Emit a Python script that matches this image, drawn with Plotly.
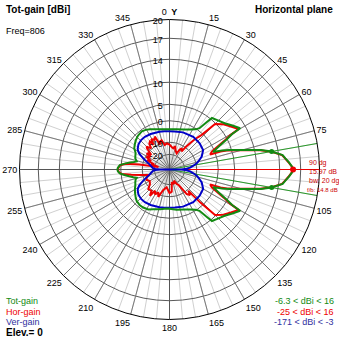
import plotly.graph_objects as go

# ---- pattern data (azimuth in degrees, gain in dBi) ----
TOT_ANG = [270, 272, 275, 277.5, 280, 282, 284, 288, 292, 296, 298.5, 301, 306, 311, 317, 324, 329, 334, 340, 345, 352,
           0, 10, 20, 27, 33, 36, 38, 39.5, 44, 50, 55, 59.7, 60.5, 62.5, 64.8, 68, 70, 72, 74, 76, 78, 80, 82.7, 84.5,
           86.5, 88.7, 90, 91.3, 93.5, 95.5, 97.3, 100, 102, 104, 106, 108, 110, 112, 115.2, 117.5, 119.5, 120.3, 125,
           130, 136, 140.5, 142, 144, 147, 153, 160, 170, 180, 184, 193, 202, 208, 214.7, 220, 226.4, 231, 236.5, 241,
           245, 250, 254, 256, 258, 260.5, 263, 265.5, 268, 270]
TOT_DB = [1.17, 1.0, 0.4, -1.3, -3.2, -5.0, -6.3, -5.2, -4.8, -4.4, -3.7, -2.9, -2.2, -1.5, -0.9, -0.6, -0.9, -1.5, -2.2,
          -2.7, -3.1, -3.3, -3.0, -2.3, -1.4, -0.3, 0.8, 3.5, 5.4, 5.9, 6.7, 7.8, 8.9, 6.7, 4.6, 2.1, -0.6, 2.3, 4.4, 6.3,
          8.6, 11.2, 12.97, 14.6, 14.95, 15.4, 15.85, 15.97, 15.85, 15.4, 14.95, 14.6, 12.97, 11.2, 8.6, 6.3, 4.4, 2.3,
          -0.6, 2.1, 4.6, 6.7, 8.9, 7.8, 6.7, 5.9, 5.4, 3.5, 0.8, -0.3, -1.4, -2.3, -3.0, -3.7, -3.8, -3.0, -2.2, -1.3,
          -0.9, -0.8, -1.2, -1.9, -2.8, -3.6, -4.4, -5.0, -5.6, -6.3, -4.7, -3.0, -1.2, 0.4, 1.0, 1.17]

HOR_ANG = [270, 272, 275, 277.5, 279.5, 281, 283, 286, 289, 292, 295, 299, 303, 305.4, 309, 313, 315, 319, 322, 325, 327,
           329, 333, 336, 339, 342, 345, 349, 354, 0, 5, 10, 14, 18, 24, 27, 30, 34, 36, 38, 39.5, 41.5, 43, 45, 50, 55,
           59.7, 60.5, 62.5, 64.8, 67, 69.7, 70.5, 72, 74, 76, 78, 80, 82.7, 84.5, 86.5, 88.7, 90, 91.3, 93.5, 95.5,
           97.3, 100, 102, 104, 106, 108, 109.5, 110.3, 113, 115.2, 117.5, 119.5, 120.3, 125, 130, 135, 137, 137.7,
           138.4, 141, 144.9, 150, 153.6, 158, 163, 170, 174.3, 180, 189, 196.8, 202.4, 206, 210, 214.4, 216.7, 220,
           223.6, 227.4, 233.4, 240, 245.3, 251, 255, 259, 262, 264.5, 267, 270]
HOR_DB = [1.0, 0.8, 0.2, -1.6, -8, -18, -25, -16, -19, -12, -15, -10.5, -13, -9.5, -12.5, -8.0, -7.0, -9.5, -6.8, -6.1,
          -8.6, -5.5, -6.5, -5.2, -10.2, -8.5, -8.1, -11.5, -10.6, -11.5, -13.0, -14.0, -12.2, -15.5, -17.3, -13.5,
          -11.8, -13.8, -9.5, -6.5, -4.3, -2.0, -0.5, 4.8, 6.3, 7.4, 8.5, 6.2, 4.0, 1.3, -1.0, -2.0, 1.8, 4.1, 6.1, 8.4,
          11.0, 12.85, 14.5, 14.9, 15.35, 15.8, 15.97, 15.8, 15.35, 14.9, 14.5, 12.85, 11.0, 8.4, 6.1, 4.1, 1.8, -2.0,
          -1.0, 1.3, 4.0, 6.2, 8.5, 7.4, 6.3, 4.8, -1.4, -5.5, -9.3, -6.8, -8.3, -17.3, -18.9, -24, -20, -22.6, -13.4,
          -12.5, -17, -14.1, -8.6, -11.2, -9.0, -11, -6.8, -9.5, -9.3, -9.0, -11.9, -13, -11.4, -12, -14.5, -9.0, -4.0,
          -0.3, 0.7, 1.0]

VER_ANG = [270, 270.5, 272, 275, 280, 285, 289, 293, 296, 298, 300.5, 303, 309, 316, 323, 332, 345, 352, 0, 8, 20, 36,
           49, 60, 68, 73, 77, 81, 85, 87.5, 89.5, 90, 90.5, 92.5, 95, 99, 103, 107, 112, 120, 131, 144, 160, 172, 180,
           188, 195, 208, 217, 224, 231, 237, 239.5, 242, 244, 247, 251, 255, 260, 265, 268, 269.5, 270]
VER_DB = [-171, -28, -21, -18.5, -16.5, -14.5, -12.0, -9.2, -7.2, -6.0, -5.0, -4.3, -3.4, -3.0, -3.0, -3.3, -3.8, -4.0,
          -4.2, -4.1, -3.6, -3.2, -3.4, -3.9, -5.8, -7.8, -9.5, -12.0, -14.7, -18, -24, -171, -24, -18, -14.7, -12.0,
          -9.5, -7.8, -5.8, -3.9, -3.4, -3.2, -3.6, -4.1, -4.2, -4.0, -3.8, -3.3, -3.0, -3.0, -3.4, -4.3, -5.0, -6.0,
          -7.2, -9.2, -12.0, -14.5, -16.5, -18.5, -21, -28, -171]

# main lobe summary
MAX_DIR = 90
MAX_GAIN = 15.97
BW_DIRS = [80, 100]
BW_GAIN = [12.97, 12.97]

RING_DB = [-20, -10, 0, 5, 10, 14, 17]
RING_TEXT = ["-20", "-10", "0", "5", "10", "14", "17"]
EDGE_TEXT = "20"


def rt(db):
    """Logarithmic radial scale: 0.89 per 2 dB below 20 dBi."""
    return 0.89 ** ((20.0 - db) / 2.0)


R_EDGE = 0.96
GREEN = "#128a12"
RED = "#ee0000"
BLUE = "#0000c8"

fig = go.Figure()

# darker spokes every 15 degrees
sp_t, sp_r = [], []
for a in range(0, 360, 15):
    sp_t += [a, a, None]
    sp_r += [0, R_EDGE, None]
fig.add_trace(go.Scatterpolar(theta=sp_t, r=sp_r, mode="lines",
                              line=dict(color="#7a7a7a", width=1), hoverinfo="skip"))
# main cross axes
for a in (0, 90):
    fig.add_trace(go.Scatterpolar(theta=[a, a, None, a + 180, a + 180], r=[0, R_EDGE, None, 0, R_EDGE],
                                  mode="lines", line=dict(color="#555555", width=1), hoverinfo="skip"))

# beamwidth lines and max-direction line
for d in BW_DIRS:
    fig.add_trace(go.Scatterpolar(theta=[d, d], r=[0, R_EDGE], mode="lines",
                                  line=dict(color="#2a9a2a", width=1), hoverinfo="skip"))
fig.add_trace(go.Scatterpolar(theta=[MAX_DIR, MAX_DIR], r=[0, R_EDGE], mode="lines",
                              line=dict(color=RED, width=1), hoverinfo="skip"))

fig.add_trace(go.Scatterpolar(theta=HOR_ANG, r=[rt(v) for v in HOR_DB], mode="lines",
                              line=dict(color=RED, width=2), name="Hor-gain"))
fig.add_trace(go.Scatterpolar(theta=VER_ANG, r=[rt(v) for v in VER_DB], mode="lines",
                              line=dict(color=BLUE, width=2), name="Ver-gain"))
fig.add_trace(go.Scatterpolar(theta=TOT_ANG, r=[rt(v) for v in TOT_DB], mode="lines",
                              line=dict(color=GREEN, width=2), name="Tot-gain"))

fig.add_trace(go.Scatterpolar(theta=BW_DIRS, r=[rt(v) for v in BW_GAIN], mode="markers",
                              marker=dict(color=GREEN, size=5)))
fig.add_trace(go.Scatterpolar(theta=[MAX_DIR], r=[rt(MAX_GAIN)], mode="markers",
                              marker=dict(color=RED, size=6)))

ang_vals = list(range(0, 360, 5))
ang_text = []
for a in ang_vals:
    if a == 0:
        ang_text.append("0\u2002<b>Y</b>")
    elif a == 90 or a % 15:
        ang_text.append("")
    else:
        ang_text.append(str(a))

FONT = "Liberation Sans, Arial, sans-serif"
d0 = 19.5 / 339
fig.update_layout(
    width=339, height=339, margin=dict(l=0, r=0, t=0, b=0),
    paper_bgcolor="white", showlegend=False,
    font=dict(family=FONT, color="black"),
    polar=dict(
        domain=dict(x=[d0, 1 - d0], y=[d0, 1 - d0]),
        bgcolor="white",
        angularaxis=dict(rotation=90, direction="clockwise", tickmode="array",
                         tickvals=ang_vals, ticktext=ang_text, ticks="",
                         gridcolor="#d0d0d0", gridwidth=1, showline=True,
                         linecolor="black", linewidth=1,
                         tickfont=dict(size=9, family=FONT, color="black")),
        radialaxis=dict(range=[0, R_EDGE], tickmode="array",
                        tickvals=[rt(v) for v in RING_DB] + [R_EDGE * 0.9999],
                        ticktext=RING_TEXT + [EDGE_TEXT],
                        angle=90, side="counterclockwise", showline=False, ticks="",
                        gridcolor="#5a5a5a", gridwidth=1,
                        tickfont=dict(size=9, family=FONT, color="black")),
    ),
)


def note(x, y, text, color="black", size=9, bold=False, anchor="left"):
    if bold:
        text = "<b>" + text + "</b>"
    fig.add_annotation(x=x / 339, y=1 - y / 339, xref="paper", yref="paper", text=text,
                       showarrow=False, xanchor=anchor, yanchor="middle",
                       font=dict(size=size, color=color, family=FONT))


note(4, 9, "Tot-gain [dBi]", bold=True, size=10)
note(4, 31, "Freq=806", size=9)
note(335, 9, "Horizontal plane", bold=True, size=10, anchor="right")

note(4, 300.5, "Tot-gain", color=GREEN)
note(4, 311.5, "Hor-gain", color=RED)
note(4, 321.5, "Ver-gain", color="#3030a0")
note(4, 332, "Elev.= 0", bold=True, size=10)

note(336, 300.5, "-6.3 &lt; dBi &lt; 16", color=GREEN, anchor="right")
note(336, 311.5, "-25 &lt; dBi &lt; 16", color=RED, anchor="right")
note(336, 321.5, "-171 &lt; dBi &lt; -3", color="#3030a0", anchor="right")

note(307, 162.5, "90 dg", color="#cc0000", size=7)
note(307, 171.5, "15.97 dB", color="#cc0000", size=7)
note(307, 180.5, "bw: 20 dg", color="#cc0000", size=7)
note(305, 189.5, "f/b: 14.8 dB", color="#cc0000", size=6)

fig.write_html("out.html")
